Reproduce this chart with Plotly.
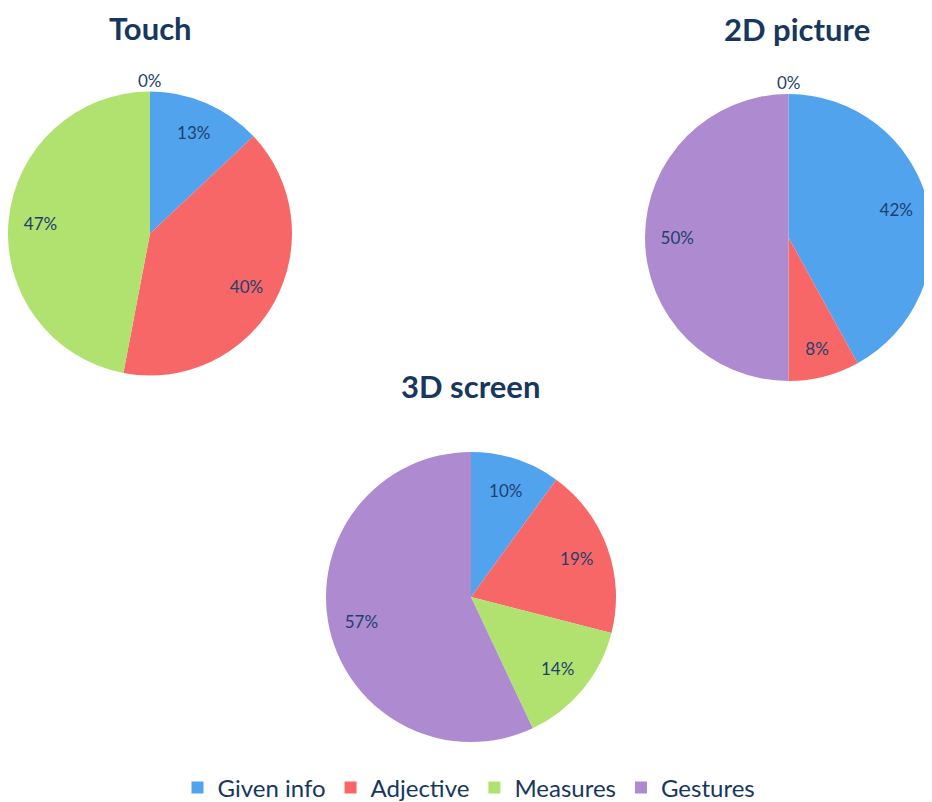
import plotly.graph_objects as go

categories = ["Given info", "Adjective", "Measures", "Gestures"]
touch_values = [13, 40, 47, 0]
picture2d_values = [42, 8, 0, 50]
screen3d_values = [10, 19, 14, 57]
titles = ["Touch", "2D picture", "3D screen"]

colors = ["#52a3ee", "#f76767", "#b1e270", "#ae8ad0"]
navy = "#17375e"
label_color = "#1f3f6e"
font_family = "Lato, 'Open Sans', sans-serif"

# the page adds an 8px body margin; work in reference pixels and convert.
# A fixed bottom margin holds the legend so the pie area is not resized.
W, H, OFF, MB = 924, 794, 8, 60
PH = H - MB


def px(x):
    return (x - OFF) / W


def py(y):
    return 1 - (y - OFF) / PH


def dom(cx, cy, r):
    return dict(x=[max(0, px(cx - r)), min(1, px(cx + r))],
                y=[max(0, py(cy + r)), min(1, py(cy - r))])


domains = [dom(150, 233.5, 142), dom(788.5, 237.5, 143.5), dom(471, 597, 145)]
title_pos = [(px(150), py(28)), (px(797), py(29)), (px(470), py(386))]
series = [touch_values, picture2d_values, screen3d_values]

fig = go.Figure()
annotations = []
for i, (vals, d) in enumerate(zip(series, domains)):
    fig.add_trace(go.Pie(
        labels=categories, values=vals, domain=d, sort=False,
        direction="clockwise", rotation=0,
        marker=dict(colors=colors, line=dict(width=0)),
        textinfo="none", hoverinfo="label+value",
        showlegend=(i == 0),
    ))
    texts = [f"{v}%" if v > 0 else "" for v in vals]
    fig.add_trace(go.Pie(
        labels=categories, values=vals, domain=d, sort=False,
        direction="clockwise", rotation=0, hole=0.55,
        marker=dict(colors=["rgba(0,0,0,0)"] * 4, line=dict(width=0)),
        text=texts, textinfo="text", textposition="inside",
        insidetextorientation="horizontal",
        textfont=dict(size=17, color=label_color, family=font_family),
        hoverinfo="skip", showlegend=False,
    ))
    # zero-value labels shown just above the pie
    for v in vals:
        if v == 0:
            cx = (d["x"][0] + d["x"][1]) / 2
            annotations.append(dict(
                x=cx, y=d["y"][1] - 0.002, xref="paper", yref="paper",
                text=f"{v}%", showarrow=False, xanchor="center", yanchor="bottom",
                font=dict(size=17, color=label_color, family=font_family),
            ))
    tx, ty = title_pos[i]
    annotations.append(dict(
        x=tx, y=ty, xref="paper", yref="paper", text=f"<b>{titles[i]}</b>",
        showarrow=False, xanchor="center", yanchor="middle",
        font=dict(size=31, color=navy, family=font_family),
    ))

fig.update_layout(
    width=W, height=H,
    margin=dict(l=0, r=0, t=0, b=MB),
    paper_bgcolor="white", plot_bgcolor="white",
    annotations=annotations,
    uniformtext=dict(minsize=17, mode="show"),
    legend=dict(
        orientation="h", xref="container", yref="container",
        x=px(469), xanchor="center", y=1 - (788 - OFF) / H, yanchor="middle",
        font=dict(size=24, color=navy, family=font_family),
        itemsizing="constant", traceorder="normal",
    ),
)

fig.write_html("out.html")
